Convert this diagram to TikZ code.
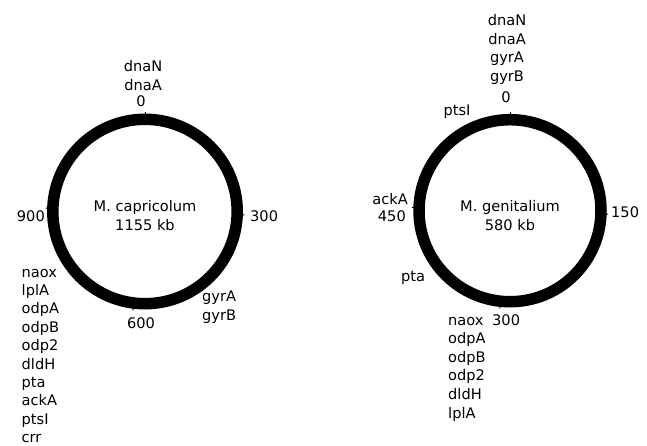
\documentclass[tikz,border=0pt]{standalone}
\usepackage{fontspec}
\setmainfont{DejaVu Sans}
\usetikzlibrary{calc}
\begin{document}
\begin{tikzpicture}[x=1pt,y=-1pt,
  lbl/.style={inner sep=0pt,font=\fontsize{14.6}{18.5}\selectfont},
  ring/.style={line width=11.5pt},
  tick/.style={line width=1pt}]
\useasboundingbox (0,0) rectangle (647,446);

% ---------- Mycoplasma capricolum ----------
\coordinate (cc) at (145,211.5);
\draw[ring] (cc) circle[radius=92.2];
% scale ticks (y axis points down, so angles run clockwise)
\foreach \k/\a in {0/-90,300/2,600/97,900/182}
  \draw[tick] ($(cc)+(\a:97.5)$) -- ($(cc)+(\a:99.5)$);

\node[lbl,anchor=base] (capname) at (145,212) {M. capricolum};
\node[lbl,anchor=base] (capsize) at (145,230) {1155 kb};

\node[lbl,anchor=base] (cdnaN) at (143,72) {dnaN};
\node[lbl,anchor=base] (cdnaA) at (143,90.5) {dnaA};
\node[lbl,anchor=base] (c0) at (141,107) {0};
\node[lbl,anchor=base west] (c300) at (250,222) {300};
\node[lbl,anchor=base] (c600) at (141,328) {600};
\node[lbl,anchor=base east] (c900) at (45,222) {900};
\node[lbl,anchor=base west] (cgyrA) at (202,301.5) {gyrA};
\node[lbl,anchor=base west] (cgyrB) at (202,320) {gyrB};

\foreach \g [count=\i from 0] in {naox,lplA,odpA,odpB,odp2,dldH,pta,ackA,ptsI,crr}
  \node[lbl,anchor=base west] (cg\i) at (21.5,{277+18.4*\i}) {\g};

% ---------- Mycoplasma genitalium ----------
\coordinate (gc) at (510,210.7);
\draw[ring] (gc) circle[radius=91];
\foreach \k/\a in {0/-90,150/2,300/96,450/182}
  \draw[tick] ($(gc)+(\a:96.2)$) -- ($(gc)+(\a:98.2)$);

\node[lbl,anchor=base] (genname) at (510,212) {M. genitalium};
\node[lbl,anchor=base] (gensize) at (510,230) {580 kb};

\node[lbl,anchor=base] (gdnaN) at (507,26) {dnaN};
\node[lbl,anchor=base] (gdnaA) at (507,44.5) {dnaA};
\node[lbl,anchor=base] (ggyrA) at (507,63) {gyrA};
\node[lbl,anchor=base] (ggyrB) at (507,81.5) {gyrB};
\node[lbl,anchor=base] (g0) at (506,103) {0};
\node[lbl,anchor=base] (gptsI) at (457,116) {ptsI};
\node[lbl,anchor=base east] (gackA) at (408,205) {ackA};
\node[lbl,anchor=base east] (g450) at (406,222) {450};
\node[lbl,anchor=base west] (g150) at (611,218) {150};
\node[lbl,anchor=base] (gpta) at (413,281) {pta};
\node[lbl,anchor=base west] (g300) at (492,325) {300};

\foreach \g [count=\i from 0] in {naox,odpA,odpB,odp2,dldH,lplA}
  \node[lbl,anchor=base west] (gg\i) at (448,{325+18.6*\i}) {\g};
\end{tikzpicture}
\end{document}
